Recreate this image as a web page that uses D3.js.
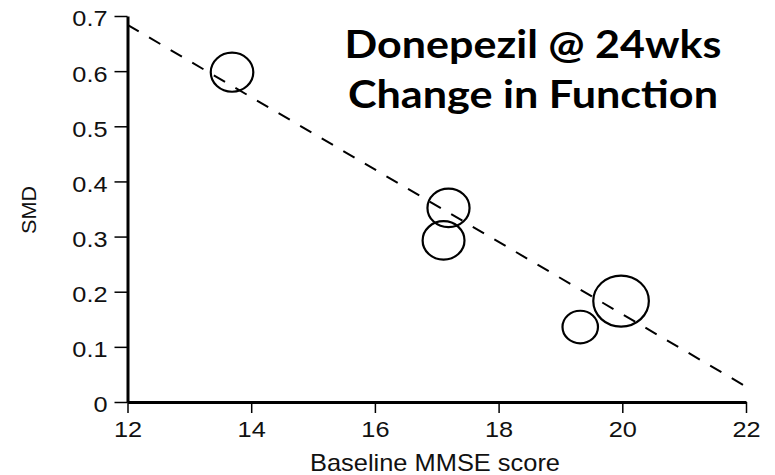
<!DOCTYPE html>
<html>
<head>
<meta charset="utf-8">
<script src="https://cdn.jsdelivr.net/npm/d3@7"></script>
<style>
  html, body { margin: 0; padding: 0; background: #fff; }
  svg { display: block; }
</style>
</head>
<body>
<svg id="chart" width="775" height="475"></svg>
<script>
// Meta-regression of donepezil effect on function at 24 weeks
const mmse = [13.69, 17.19, 17.11, 19.32, 19.98];     // baseline MMSE per study
const smd = [0.598, 0.352, 0.293, 0.136, 0.183];      // standardised mean difference
const studyWeight = [18.7, 18.3, 18.1, 13.0, 31.9];   // relative weight (%)

const fitX = [12, 22];                                // fitted line end points
const fitY = [0.684, 0.028];

const xTicks = [12, 14, 16, 18, 20, 22];
const yTicks = [0, 0.1, 0.2, 0.3, 0.4, 0.5, 0.6, 0.7];

const titleLines = ["Donepezil @ 24wks", "Change in Function"];

const svg = d3.select("#chart");

const x = d3.scaleLinear().domain([12, 22]).range([127.5, 746]);
const y = d3.scaleLinear().domain([0, 0.7]).range([402, 16]);
const r = d3.scaleSqrt().domain([0, d3.max(studyWeight)]).range([0, 25.5]);

const tickFont = "Liberation Sans, Arial, Helvetica, sans-serif";

// widen a text element's glyphs horizontally by a factor
function widen(sel, k) {
  sel.each(function () {
    const w = this.getComputedTextLength();
    d3.select(this).attr("textLength", w * k).attr("lengthAdjust", "spacingAndGlyphs");
  });
}

// axes
const yAxis = svg.append("g")
  .attr("transform", `translate(${x(12)},0)`)
  .call(d3.axisLeft(y).tickValues(yTicks).tickFormat(d => String(d))
    .tickSize(13).tickSizeOuter(0).tickPadding(7));

const xAxis = svg.append("g")
  .attr("transform", `translate(0,${y(0)})`)
  .call(d3.axisBottom(x).tickValues(xTicks).tickFormat(d => String(d))
    .tickSize(11).tickSizeOuter(0).tickPadding(8));

[xAxis, yAxis].forEach(g => {
  g.select(".domain").attr("stroke", "#000").attr("stroke-width", 3);
  g.selectAll(".tick line").attr("stroke", "#000").attr("stroke-width", 1.5);
  g.selectAll(".tick text")
    .attr("fill", "#111")
    .style("font-family", tickFont)
    .style("font-size", "22px")
    .call(widen, 1.15);
});
yAxis.selectAll(".tick text").attr("dy", "0.45em");

// axis titles
svg.append("text")
  .attr("x", 435).attr("y", 471)
  .attr("text-anchor", "middle")
  .style("font-family", tickFont)
  .style("font-size", "24px")
  .attr("fill", "#111")
  .attr("textLength", 250)
  .attr("lengthAdjust", "spacingAndGlyphs")
  .text("Baseline MMSE score");

svg.append("text")
  .attr("transform", `translate(36,210) rotate(-90)`)
  .attr("text-anchor", "middle")
  .style("font-family", tickFont)
  .style("font-size", "20px")
  .attr("fill", "#111")
  .attr("textLength", 48)
  .attr("lengthAdjust", "spacingAndGlyphs")
  .text("SMD");

// fitted regression line
const fit = fitX.map((v, i) => [v, fitY[i]]);
svg.append("path")
  .datum(fit)
  .attr("d", d3.line().x(d => x(d[0])).y(d => y(d[1])))
  .attr("fill", "none")
  .attr("stroke", "#000")
  .attr("stroke-width", 2)
  .attr("stroke-dasharray", "13,12");

// study bubbles, area proportional to weight
const studies = mmse.map((v, i) => ({ x: v, y: smd[i], w: studyWeight[i] }));
svg.append("g")
  .selectAll("ellipse")
  .data(studies)
  .join("ellipse")
  .attr("cx", d => x(d.x))
  .attr("cy", d => y(d.y))
  .attr("rx", d => r(d.w) * 1.09)
  .attr("ry", d => r(d.w))
  .attr("fill", "none")
  .attr("stroke", "#000")
  .attr("stroke-width", 2.2);

// title
const title = svg.append("text")
  .attr("text-anchor", "middle")
  .style("font-family", "Lato, 'Open Sans', sans-serif")
  .style("font-weight", "bold")
  .style("font-size", "39px")
  .attr("fill", "#000");
const titleWidths = [377, 370];
titleLines.forEach((t, i) => {
  title.append("tspan")
    .attr("x", 533)
    .attr("y", 58 + i * 50)
    .attr("textLength", titleWidths[i])
    .attr("lengthAdjust", "spacingAndGlyphs")
    .text(t);
});
</script>
</body>
</html>
